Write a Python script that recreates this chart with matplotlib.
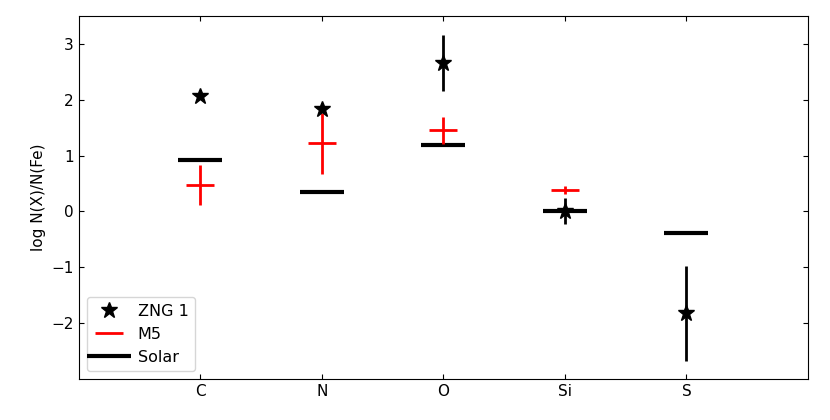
import matplotlib
matplotlib.use("Agg")
import matplotlib.pyplot as plt
import numpy as np

elements = ["C", "N", "O", "Si", "S"]
xpos = np.arange(1, 6)

zng_vals = [2.07, 1.83, 2.66, 0.01, -1.82]
zng_err = [0.0, 0.0, 0.50, 0.23, 0.85]

m5_x = [1, 2, 3, 4]
m5_vals = [0.47, 1.22, 1.45, 0.38]
m5_err = [0.36, 0.55, 0.24, 0.07]

solar_vals = [0.93, 0.34, 1.19, 0.01, -0.38]

fig = plt.figure(figsize=(8.3, 4.2), dpi=100)
ax = fig.add_axes([0.0948, 0.0976, 0.9735 - 0.0948, 0.962 - 0.0976])

# Solar
ax.plot(xpos, solar_vals, ls="none", marker="_", ms=32, mew=3, color="black", label="Solar", zorder=2)
# M5
ax.errorbar(m5_x, m5_vals, yerr=m5_err, fmt="none", ecolor="red", elinewidth=2, capsize=0, zorder=3)
ax.plot(m5_x, m5_vals, ls="none", marker="_", ms=20, mew=2, color="red", label="M5", zorder=3)
# ZNG 1
ax.errorbar(xpos, zng_vals, yerr=zng_err, fmt="none", ecolor="black", elinewidth=2, capsize=0, zorder=4)
ax.plot(xpos, zng_vals, ls="none", marker="*", ms=12, color="black", label="ZNG 1", zorder=5)

ax.set_xlim(0, 6)
ax.set_ylim(-3, 3.5)
ax.set_xticks(xpos)
ax.set_xticklabels(elements)
ax.set_yticks([-2, -1, 0, 1, 2, 3])
ax.set_yticklabels(["\u22122", "\u22121", "0", "1", "2", "3"])
ax.tick_params(direction="in", top=True, right=True, labelsize=11)
ax.set_ylabel("log N(X)/N(Fe)", fontsize=11)

h, l = ax.get_legend_handles_labels()
order = [2, 1, 0]
ax.legend([h[i] for i in order], [l[i] for i in order], loc="lower left", fontsize=11.5)

fig.savefig("out.png", dpi=100)
